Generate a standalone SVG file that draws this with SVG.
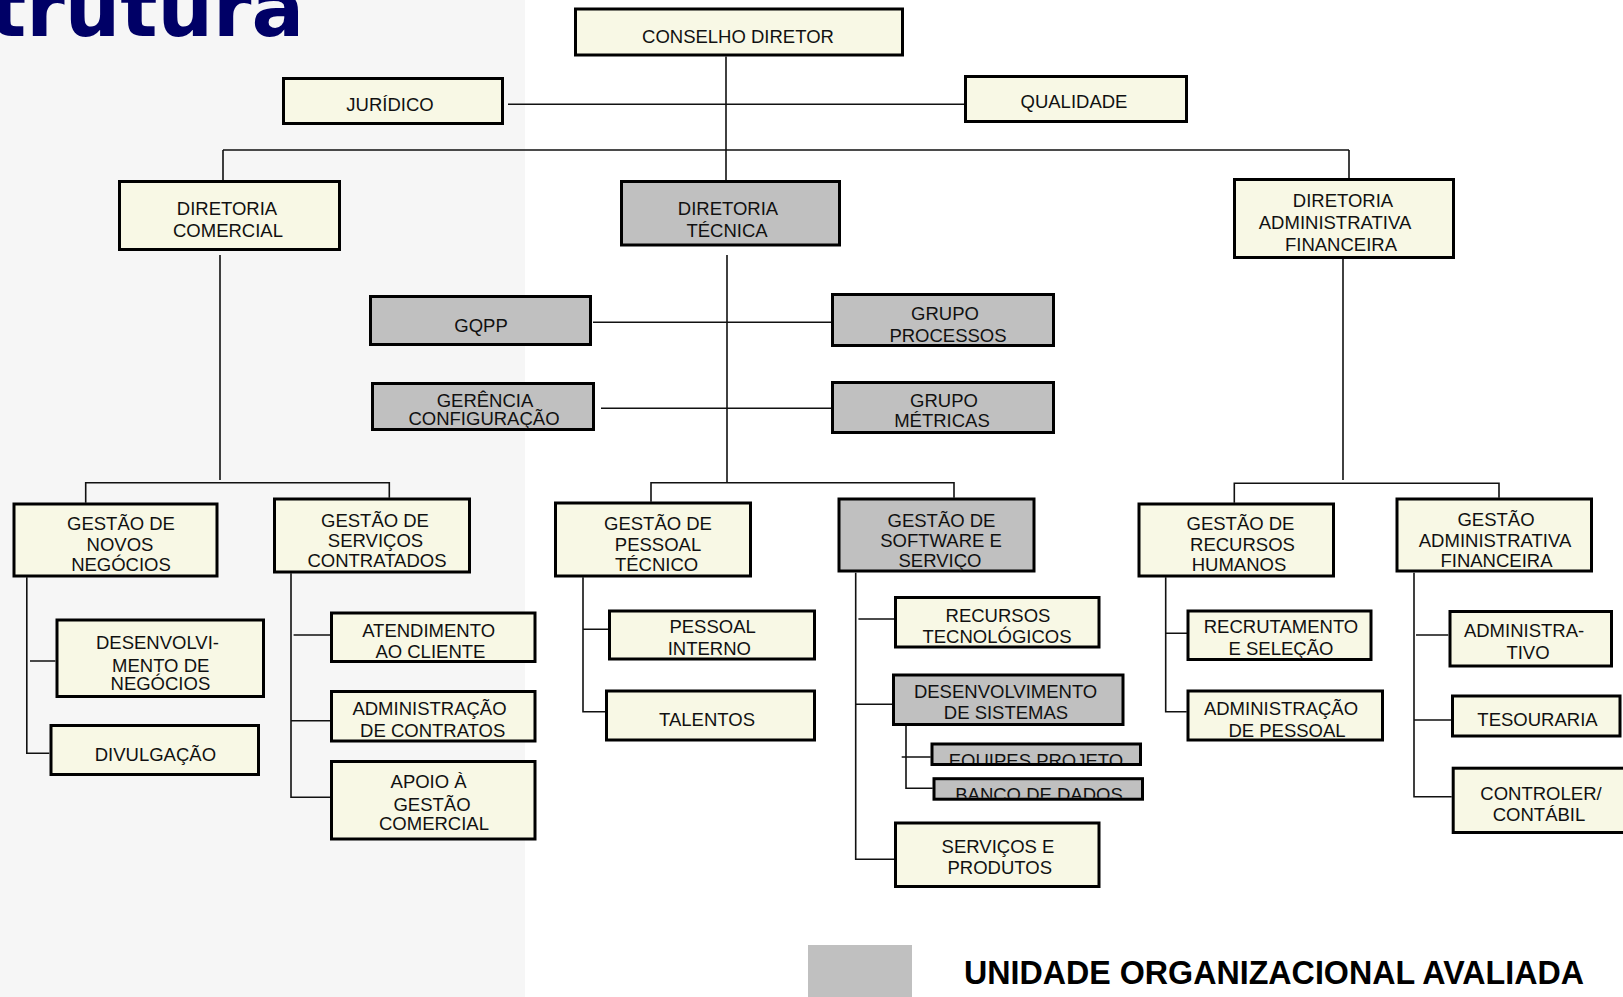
<svg xmlns="http://www.w3.org/2000/svg" width="1623" height="997" viewBox="0 0 1623 997">
  <style>
    .box { stroke: #000; stroke-width: 3; }
    .cream { fill: #f8f8e5; }
    .gray { fill: #c0c0c0; }
    .lbl { font-family: "Liberation Sans", Arial, sans-serif; font-size: 18.5px; fill: #111; text-anchor: middle; }
    .conn { stroke: #111; stroke-width: 1.6; fill: none; }
    .title { font-family: "DejaVu Sans", Verdana, sans-serif; font-weight: bold; font-size: 78px; fill: #000066; }
    .legend { font-family: "Liberation Sans", Arial, sans-serif; font-weight: bold; font-size: 32.5px; fill: #000; }
  </style>
  <defs>
    <clipPath id="clip-ep"><rect x="933.5" y="745.5" width="205.5" height="17.5"/></clipPath>
    <clipPath id="clip-bd"><rect x="935.5" y="780.2" width="205.5" height="17.5"/></clipPath>
  </defs>

  <!-- page background -->
  <rect x="0" y="0" width="1623" height="997" fill="#ffffff"/>
  <rect x="0" y="0" width="525" height="997" fill="#f6f6f6"/>

  <!-- heading -->
  <text class="title" x="-11" y="36">trutura</text>

  <!-- connectors -->
  <g id="connectors" class="conn">
    <path d="M726 56.5 V180"/>
    <path d="M508 104.3 H964"/>
    <path d="M223 150 H1349 M223 150 V180 M1349 150 V178"/>
    <path d="M220 255 V480"/>
    <path d="M727 255 V482.7"/>
    <path d="M1343 259 V480"/>
    <path d="M593 322.3 H831"/>
    <path d="M601 408.3 H831"/>
    <!-- commercial branch -->
    <path d="M85.7 502.7 V482.7 H389.3 V497.7"/>
    <path d="M26.8 577.3 V753.3 H49.3 M30 661 H55.4"/>
    <path d="M291 573.3 V797.3 H330 M293.6 635 H330 M291 720.7 H330"/>
    <!-- technical branch -->
    <path d="M651 501.7 V482.7 H954 V497.7"/>
    <path d="M583 577.3 V711.7 H605 M583 629.3 H608"/>
    <path d="M855.7 572.7 V859.3 H894 M858.4 619 H894 M855.7 704.3 H892"/>
    <path d="M906 726 V788.3 H932.7 M901.7 757 H930.7"/>
    <!-- administrative branch -->
    <path d="M1234.3 502.7 V483.3 H1499 V497.7"/>
    <path d="M1165.7 577.3 V711.7 H1186.7 M1165.7 633.3 H1190"/>
    <path d="M1414 572.7 V796.7 H1451.7 M1416 635 H1448.3 M1414 720 H1451"/>
  </g>

  <!-- top level -->
  <g id="conselho-diretor">
    <rect class="box cream" x="575.5" y="9" width="327" height="46"/>
    <text class="lbl" x="738" y="43">CONSELHO DIRETOR</text>
  </g>
  <g id="juridico">
    <rect class="box cream" x="283.5" y="78.5" width="219" height="45"/>
    <text class="lbl" x="390" y="111">JURÍDICO</text>
  </g>
  <g id="qualidade">
    <rect class="box cream" x="965.5" y="76.5" width="221" height="45"/>
    <text class="lbl" x="1074" y="108">QUALIDADE</text>
  </g>

  <!-- directorates -->
  <g id="diretoria-comercial">
    <rect class="box cream" x="119.5" y="181.5" width="220" height="68"/>
    <text class="lbl" x="227" y="215">DIRETORIA</text>
    <text class="lbl" x="228" y="237">COMERCIAL</text>
  </g>
  <g id="diretoria-tecnica">
    <rect class="box gray" x="621.5" y="181.5" width="218" height="63.5"/>
    <text class="lbl" x="728" y="215">DIRETORIA</text>
    <text class="lbl" x="727" y="237">TÉCNICA</text>
  </g>
  <g id="diretoria-adm-fin">
    <rect class="box cream" x="1234.5" y="179.5" width="219" height="78"/>
    <text class="lbl" x="1343" y="207">DIRETORIA</text>
    <text class="lbl" x="1335" y="229">ADMINISTRATIVA</text>
    <text class="lbl" x="1341" y="251">FINANCEIRA</text>
  </g>

  <!-- technical staff groups -->
  <g id="gqpp">
    <rect class="box gray" x="370.5" y="296.5" width="220" height="48"/>
    <text class="lbl" x="481" y="332">GQPP</text>
  </g>
  <g id="grupo-processos">
    <rect class="box gray" x="832.5" y="294.5" width="221" height="51"/>
    <text class="lbl" x="945" y="320">GRUPO</text>
    <text class="lbl" x="948" y="342">PROCESSOS</text>
  </g>
  <g id="gerencia-configuracao">
    <rect class="box gray" x="372.5" y="383.5" width="221" height="46"/>
    <text class="lbl" x="485" y="407">GERÊNCIA</text>
    <text class="lbl" x="484" y="425">CONFIGURAÇÃO</text>
  </g>
  <g id="grupo-metricas">
    <rect class="box gray" x="832.5" y="382.5" width="221" height="50"/>
    <text class="lbl" x="944" y="407">GRUPO</text>
    <text class="lbl" x="942" y="427">MÉTRICAS</text>
  </g>

  <!-- management units -->
  <g id="gestao-novos-negocios">
    <rect class="box cream" x="14" y="504" width="203" height="72"/>
    <text class="lbl" x="121" y="530">GESTÃO DE</text>
    <text class="lbl" x="120" y="550.7">NOVOS</text>
    <text class="lbl" x="121" y="570.7">NEGÓCIOS</text>
  </g>
  <g id="gestao-servicos-contratados">
    <rect class="box cream" x="274.5" y="499" width="195" height="73"/>
    <text class="lbl" x="375" y="526.7">GESTÃO DE</text>
    <text class="lbl" x="375.5" y="547.3">SERVIÇOS</text>
    <text class="lbl" x="377" y="566.7">CONTRATADOS</text>
  </g>
  <g id="gestao-pessoal-tecnico">
    <rect class="box cream" x="555.5" y="503" width="195" height="73"/>
    <text class="lbl" x="658" y="530">GESTÃO DE</text>
    <text class="lbl" x="658" y="550.7">PESSOAL</text>
    <text class="lbl" x="656.5" y="570.7">TÉCNICO</text>
  </g>
  <g id="gestao-software-servico">
    <rect class="box gray" x="839" y="499" width="195" height="72"/>
    <text class="lbl" x="941.5" y="526.7">GESTÃO DE</text>
    <text class="lbl" x="941" y="547.3">SOFTWARE E</text>
    <text class="lbl" x="940" y="566.7">SERVIÇO</text>
  </g>
  <g id="gestao-recursos-humanos">
    <rect class="box cream" x="1139" y="504" width="194.5" height="72"/>
    <text class="lbl" x="1240.5" y="530">GESTÃO DE</text>
    <text class="lbl" x="1242.5" y="550.7">RECURSOS</text>
    <text class="lbl" x="1239" y="570.7">HUMANOS</text>
  </g>
  <g id="gestao-adm-fin">
    <rect class="box cream" x="1397" y="499" width="194.5" height="72"/>
    <text class="lbl" x="1496" y="525.7">GESTÃO</text>
    <text class="lbl" x="1495" y="547.3">ADMINISTRATIVA</text>
    <text class="lbl" x="1496.5" y="566.7">FINANCEIRA</text>
  </g>

  <!-- commercial units -->
  <g id="desenvolvimento-negocios">
    <rect class="box cream" x="57" y="620" width="206.5" height="76.5"/>
    <text class="lbl" x="157.5" y="649.3">DESENVOLVI-</text>
    <text class="lbl" x="160.7" y="671.7">MENTO DE</text>
    <text class="lbl" x="160.4" y="690">NEGÓCIOS</text>
  </g>
  <g id="divulgacao">
    <rect class="box cream" x="51" y="725.5" width="207.5" height="49"/>
    <text class="lbl" x="155.4" y="760.7">DIVULGAÇÃO</text>
  </g>
  <g id="atendimento-cliente">
    <rect class="box cream" x="331.5" y="613" width="203.5" height="48.5"/>
    <text class="lbl" x="428.6" y="636.7">ATENDIMENTO</text>
    <text class="lbl" x="430.4" y="658.3">AO CLIENTE</text>
  </g>
  <g id="administracao-contratos">
    <rect class="box cream" x="331.5" y="691.5" width="203.5" height="49.5"/>
    <text class="lbl" x="429.5" y="715">ADMINISTRAÇÃO</text>
    <text class="lbl" x="432.7" y="736.7">DE CONTRATOS</text>
  </g>
  <g id="apoio-gestao-comercial">
    <rect class="box cream" x="331.5" y="761.5" width="203.5" height="77.5"/>
    <text class="lbl" x="428.6" y="788.3">APOIO À</text>
    <text class="lbl" x="432" y="810.7">GESTÃO</text>
    <text class="lbl" x="434" y="830">COMERCIAL</text>
  </g>

  <!-- technical units -->
  <g id="pessoal-interno">
    <rect class="box cream" x="609.5" y="611" width="205" height="48"/>
    <text class="lbl" x="712.6" y="632.7">PESSOAL</text>
    <text class="lbl" x="709.3" y="655">INTERNO</text>
  </g>
  <g id="talentos">
    <rect class="box cream" x="606.5" y="691" width="208" height="49"/>
    <text class="lbl" x="707" y="726">TALENTOS</text>
  </g>
  <g id="recursos-tecnologicos">
    <rect class="box cream" x="895.5" y="597.5" width="203.5" height="49.5"/>
    <text class="lbl" x="998" y="621.7">RECURSOS</text>
    <text class="lbl" x="997" y="643.3">TECNOLÓGICOS</text>
  </g>
  <g id="desenvolvimento-sistemas">
    <rect class="box gray" x="893.5" y="675" width="229.5" height="49.5"/>
    <text class="lbl" x="1005.6" y="698.3">DESENVOLVIMENTO</text>
    <text class="lbl" x="1006" y="719.3">DE SISTEMAS</text>
  </g>
  <g id="equipes-projeto">
    <rect class="box gray" x="932" y="744" width="208.5" height="20.5"/>
    <text class="lbl" x="1036" y="766.5" clip-path="url(#clip-ep)">EQUIPES PROJETO</text>
  </g>
  <g id="banco-dados">
    <rect class="box gray" x="934" y="778.7" width="208.5" height="20.5"/>
    <text class="lbl" x="1039" y="800.5" clip-path="url(#clip-bd)">BANCO DE DADOS</text>
  </g>
  <g id="servicos-produtos">
    <rect class="box cream" x="895.5" y="823" width="203.5" height="63.5"/>
    <text class="lbl" x="998" y="853.3">SERVIÇOS E</text>
    <text class="lbl" x="999.8" y="874">PRODUTOS</text>
  </g>

  <!-- administrative units -->
  <g id="recrutamento-selecao">
    <rect class="box cream" x="1188" y="611" width="183" height="48.5"/>
    <text class="lbl" x="1281" y="633.3">RECRUTAMENTO</text>
    <text class="lbl" x="1281" y="655">E SELEÇÃO</text>
  </g>
  <g id="administracao-pessoal">
    <rect class="box cream" x="1188" y="691" width="194.5" height="49"/>
    <text class="lbl" x="1281" y="715">ADMINISTRAÇÃO</text>
    <text class="lbl" x="1287" y="736.7">DE PESSOAL</text>
  </g>
  <g id="administrativo">
    <rect class="box cream" x="1450" y="611.5" width="161.5" height="54.5"/>
    <text class="lbl" x="1524" y="636.7">ADMINISTRA-</text>
    <text class="lbl" x="1528" y="659.3">TIVO</text>
  </g>
  <g id="tesouraria">
    <rect class="box cream" x="1452.5" y="696" width="167.5" height="40"/>
    <text class="lbl" x="1537.5" y="725.7">TESOURARIA</text>
  </g>
  <g id="controler-contabil">
    <rect class="box cream" x="1453.2" y="768.2" width="200" height="64.3"/>
    <text class="lbl" x="1541" y="800">CONTROLER/</text>
    <text class="lbl" x="1539" y="821">CONTÁBIL</text>
  </g>

  <!-- legend -->
  <g id="legend">
    <rect x="808" y="945" width="104" height="52" fill="#c0c0c0"/>
    <text class="legend" x="964" y="984" textLength="620" lengthAdjust="spacingAndGlyphs">UNIDADE ORGANIZACIONAL AVALIADA</text>
  </g>
</svg>
